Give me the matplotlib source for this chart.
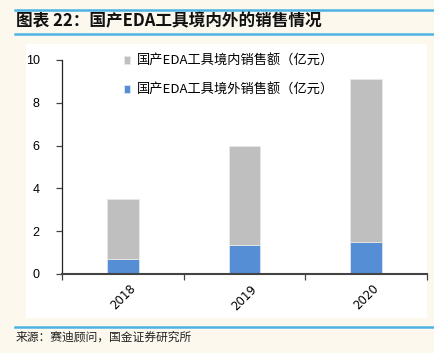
import matplotlib
matplotlib.use("Agg")
import matplotlib.pyplot as plt
from matplotlib.patches import Rectangle
from matplotlib.lines import Line2D
import numpy as np

plt.rcParams['font.family'] = ['Noto Sans CJK SC', 'DejaVu Sans']

years = ["2018", "2019", "2020"]
domestic = [2.8, 4.65, 7.6]
overseas = [0.7, 1.35, 1.5]
series_names = ["国产EDA工具境内销售额（亿元）", "国产EDA工具境外销售额（亿元）"]
yticks = [0, 2, 4, 6, 8, 10]

bg = "#FDF8EE"
grey = "#BFBFBF"
blue = "#558ED5"
line_c = "#4DB3E6"

fig = plt.figure(figsize=(4.35, 3.53), dpi=100, facecolor=bg)

# white panel
panel = Rectangle((26/435, 1-318/353), 401/435, 274/353,
                  transform=fig.transFigure, facecolor="white",
                  edgecolor="none", zorder=-5)
fig.patches.append(panel)
# header lines
for yy in (10, 34, 327):
    fig.add_artist(Line2D([15/435, 1], [1-yy/353, 1-yy/353], color=line_c, lw=1.8))

fig.text(16/435, 1-21/353, "图表 22：国产EDA工具境内外的销售情况", fontsize=12,
         fontweight='bold', fontstyle='italic', va='center', ha='left', color='#111111')
fig.text(16/435, 1-337/353, "来源：赛迪顾问，国金证券研究所", fontsize=8.5,
         va='center', ha='left', color='#222222')

ax = fig.add_axes([62/435, 1-274/353, 365/435, 214/353], zorder=2)
ax.set_facecolor("none")
x = np.arange(len(years))
w = 0.26
ax.bar(x, overseas, width=w, color=blue, edgecolor='#DCE6F4', linewidth=0.6,
       label=series_names[1], zorder=2)
ax.bar(x, domestic, width=w, bottom=overseas, color=grey, edgecolor='#E8E8E8',
       linewidth=0.6, label=series_names[0], zorder=2)

ax.set_xlim(-0.5, 2.5)
ax.set_ylim(0, 10)
ax.set_yticks(yticks)
ax.set_yticklabels([str(v) for v in yticks], family='Liberation Sans', fontsize=9)
ax.set_xticks(x)
ax.set_xticklabels(years, rotation=45, family='DejaVu Sans', fontsize=8.5)
ax.tick_params(axis='x', length=0, pad=6)
ax.set_xticks([-0.5, 0.5, 1.5, 2.5], minor=True)
ax.tick_params(axis='x', which='minor', length=4, width=0.9, color='#444444')
ax.tick_params(axis='y', length=4, width=0.9, color='#444444', pad=12)
for s in ('top', 'right'):
    ax.spines[s].set_visible(False)
ax.spines['left'].set_color('#222222')
ax.spines['left'].set_linewidth(0.9)
ax.spines['bottom'].set_color('#444444')
ax.spines['bottom'].set_linewidth(1.5)

handles, labels = ax.get_legend_handles_labels()
leg = ax.legend(handles[::-1], labels[::-1], loc='upper left',
                bbox_to_anchor=(50/365, 1.08), frameon=False, fontsize=9.5,
                handlelength=0.5, handleheight=0.5, handletextpad=0.5,
                labelspacing=1.2)

fig.savefig("out.png", dpi=100, facecolor=bg)
